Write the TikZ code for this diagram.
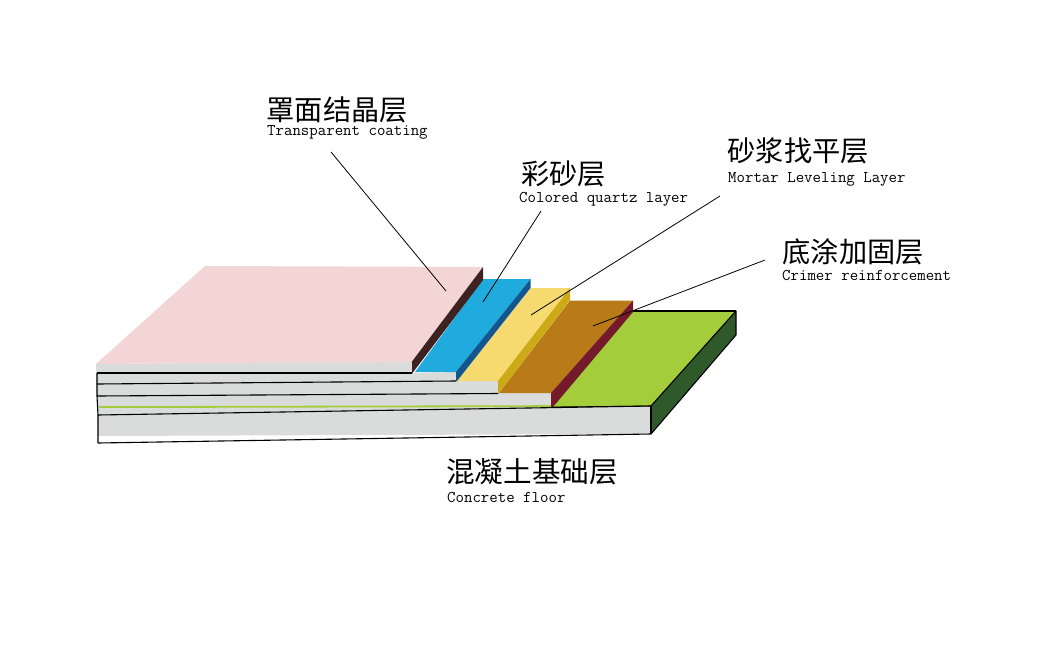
\documentclass[tikz,border=0pt]{standalone}
\usepackage{fontspec}
\newfontfamily\cjk{Noto Sans CJK SC}
\tikzset{
  cn/.style={anchor=west,inner sep=0pt,font=\cjk\fontsize{28.2}{30}\selectfont,text=black},
  en/.style={anchor=west,inner sep=0pt,font=\ttfamily\fontsize{16.4}{18}\selectfont,text=black},
  edge/.style={black,line width=1.1pt,line join=round},
  leader/.style={black,line width=0.8pt},
}
\definecolor{pinkc}{HTML}{F3D5D6}
\definecolor{brownd}{HTML}{3E2121}
\definecolor{bluec}{HTML}{1FABDD}
\definecolor{blued}{HTML}{13568F}
\definecolor{yelc}{HTML}{F6D96F}
\definecolor{yeld}{HTML}{CBAA16}
\definecolor{orc}{HTML}{B97B17}
\definecolor{marc}{HTML}{741A2B}
\definecolor{grnc}{HTML}{A3CD3A}
\definecolor{grnd}{HTML}{30592B}
\definecolor{grayc}{HTML}{DADCDB}
\begin{document}
\begin{tikzpicture}[x=1pt,y=-1pt]
\useasboundingbox (0,0) rectangle (1044,645);
% front faces
\fill[grayc] (96,364) -- (412,361) -- (412,373) -- (456,372) -- (456,381) -- (498,381) -- (498,393) -- (551,393) -- (552,407) -- (651,406) -- (651,434) -- (98,436) -- cycle;
% bottom slab
\fill[grnc] (633,311) -- (736,311) -- (651,406) -- (552,407) -- cycle;
\fill[grnd] (736,311) -- (736,335) -- (651,434) -- (651,406) -- cycle;
\fill[grnc] (99,406.2) -- (552,405.2) -- (552,407) -- (99,408) -- cycle;
% orange layer
\fill[orc] (570,300.5) -- (633,300.5) -- (551,393) -- (499,393) -- cycle;
\fill[marc] (633,300.5) -- (633,312) -- (553,407) -- (551,407) -- (551,393) -- cycle;
% yellow layer
\fill[yelc] (531,288) -- (570,288) -- (498,381) -- (457,381) -- cycle;
\fill[yeld] (570,288) -- (570,300) -- (499,393) -- (498,393) -- (498,381) -- cycle;
% blue layer
\fill[bluec] (483,279) -- (530.5,279) -- (456,372) -- (415,372) -- cycle;
\fill[blued] (530.5,279) -- (530.5,288) -- (457,381) -- (456,381) -- (456,372) -- cycle;
% pink layer
\fill[pinkc] (205,266) -- (483,267) -- (412,361.5) -- (96,364) -- cycle;
\fill[brownd] (483,267) -- (483,280) -- (412.5,373) -- (412,373) -- (412,361.5) -- cycle;
% edges
\draw[edge] (97,373) -- (412,373);
\draw[edge] (97,384) -- (456,381);
\draw[edge] (97,396) -- (498,393.5);
\draw[edge] (98,415) -- (651,406) -- (736,311) -- (736,335) -- (651,434) -- (98,443) -- (98,415) -- (97,396) -- (97,373);
\draw[edge] (633,311) -- (736,311);
\draw[edge] (651,406) -- (651,434);
\draw[edge,line width=0.8pt] (551,407) -- (651,406);
% labels
\node[cn] (n1) at (266.5,110) {罩面结晶层};
\node[en] (e1) at (267,132) {Transparent coating};
\node[cn] (n2) at (521,173.5) {彩砂层};
\node[en] (e2) at (519,199) {Colored quartz layer};
\node[cn] (n3) at (727.5,150.5) {砂浆找平层};
\node[en] (e3) at (728,179) {Mortar Leveling Layer};
\node[cn] (n4) at (782.5,251.5) {底涂加固层};
\node[en] (e4) at (782,275) {Crimer reinforcement};
\node[cn,font=\cjk\fontsize{28.6}{30}\selectfont] (n5) at (446,471.5) {混凝土基础层};
\node[en] (e5) at (447,497) {Concrete floor};
% leaders
\coordinate (a1) at (331,152); \coordinate (b1) at (446,291);
\coordinate (a2) at (541,211); \coordinate (b2) at (483,302);
\coordinate (a3) at (720,196); \coordinate (b3) at (531,315);
\coordinate (a4) at (765,260); \coordinate (b4) at (593,326);
\draw[leader] (a1) -- (b1);
\draw[leader] (a2) -- (b2);
\draw[leader] (a3) -- (b3);
\draw[leader] (a4) -- (b4);
\end{tikzpicture}
\end{document}
